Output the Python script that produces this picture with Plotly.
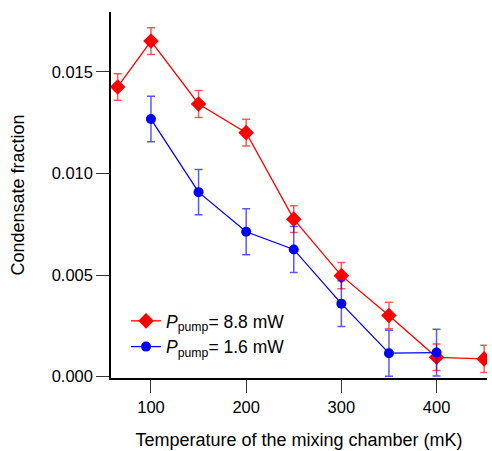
import plotly.graph_objects as go

temp_red = [65, 100, 150, 200, 250, 300, 350, 400, 450]
frac_red = [0.01426, 0.01652, 0.01342, 0.01201, 0.00775, 0.00497, 0.00301, 0.00095, 0.00087]
err_red = [0.00065, 0.00066, 0.00066, 0.00066, 0.00066, 0.00065, 0.00065, 0.00065, 0.00067]

temp_blue = [100, 150, 200, 250, 300, 350, 400]
frac_blue = [0.01268, 0.00908, 0.00713, 0.00626, 0.00359, 0.00115, 0.00118]
err_blue = [0.00112, 0.00111, 0.00113, 0.00113, 0.00113, 0.00113, 0.00115]

x_ticks = [100, 200, 300, 400]
y_ticks = [0.000, 0.005, 0.010, 0.015]
y_tick_labels = ["0.000", "0.005", "0.010", "0.015"]

font = "Liberation Sans, Arial, sans-serif"

fig = go.Figure()
fig.add_trace(go.Scatter(
    x=temp_red, y=frac_red, mode="lines+markers",
    name="<i>P</i><sub>pump</sub>= 8.8 mW",
    line=dict(color="rgb(255,0,0)", width=1.3),
    marker=dict(symbol="diamond", size=12, color="rgb(255,0,0)"),
    error_y=dict(type="data", array=err_red, visible=True,
                 color="rgba(255,0,0,0.65)", thickness=1.5, width=4),
))
fig.add_trace(go.Scatter(
    x=temp_blue, y=frac_blue, mode="lines+markers",
    name="<i>P</i><sub>pump</sub>= 1.6 mW",
    line=dict(color="rgb(0,0,255)", width=1.3),
    marker=dict(symbol="circle", size=10, color="rgb(0,0,255)"),
    error_y=dict(type="data", array=err_blue, visible=True,
                 color="rgba(0,0,255,0.65)", thickness=1.5, width=4),
))

fig.update_layout(
    width=492, height=451,
    margin=dict(l=111, r=5, t=12, b=73),
    paper_bgcolor="white", plot_bgcolor="white",
    font=dict(family=font, size=15, color="black"),
    showlegend=True,
    legend=dict(x=0.04, y=0.205, xanchor="left", yanchor="top",
                bgcolor="rgba(0,0,0,0)", font=dict(size=17.5),
                tracegroupgap=0, itemwidth=30),
    xaxis=dict(
        range=[58, 453], tickmode="array", tickvals=x_ticks,
        showline=True, linecolor="black", linewidth=1.5,
        ticks="outside", ticklen=13, tickwidth=1.2, tickcolor="#333",
        showgrid=False, zeroline=False,
        title=dict(text="Temperature of the mixing chamber (mK)", standoff=19),
        tickfont=dict(size=16.5),
    ),
    yaxis=dict(
        range=[-0.00007, 0.01795], tickmode="array", tickvals=y_ticks,
        ticktext=y_tick_labels,
        showline=True, linecolor="black", linewidth=1.5,
        ticks="outside", ticklen=13, tickwidth=1.2, tickcolor="#333",
        showgrid=False, zeroline=False,
        title=dict(text="Condensate fraction", standoff=22),
        tickfont=dict(size=16.5),
    ),
)

fig.write_html("out.html")
